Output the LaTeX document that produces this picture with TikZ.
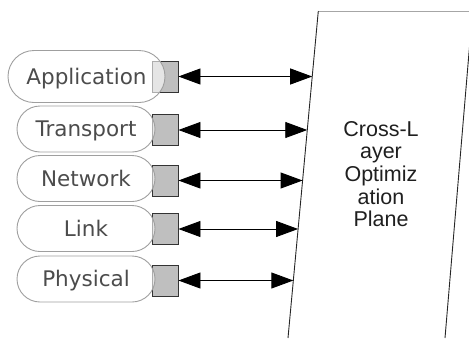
\documentclass[tikz,border=0pt]{standalone}
\usepackage{fontspec}
\setmainfont{DejaVu Sans}
\newfontfamily\planefont{Liberation Sans}
\usetikzlibrary{arrows.meta,shapes.misc,calc}
\begin{document}
\begin{tikzpicture}[x=1pt,y=-1pt,
  layerbox/.style={rounded rectangle, draw=gray!75, line width=0.9pt,
    fill=white, fill opacity=0.6, text opacity=1, text=black!70,
    font=\fontsize{21.5}{25}\selectfont, inner sep=0pt,
    text height=15.5pt, text depth=0pt,
    minimum width=138pt, minimum height=46pt},
  port/.style={rectangle, draw=black!80, fill=gray!50, line width=0.9pt,
    minimum width=26pt, minimum height=31pt, inner sep=0pt},
  twoway/.style={{Triangle[length=22pt,width=16pt]}-{Triangle[length=22pt,width=16pt]},
    line width=0.9pt, black}
]
\useasboundingbox (0,0) rectangle (469,338);
\clip (0,0) rectangle (469,338);

% the slanted optimisation plane
\coordinate (pTL) at (318.3,11);
\coordinate (pBL) at (288,338);
\coordinate (pTR) at (472.5,11);
\coordinate (pBR) at (445,338);
\draw[gray!70, line width=1pt] (pTL) -- (pTR);
\draw[black!85, line width=0.9pt] (pTL) -- (pBL);
\draw[black!85, line width=0.9pt] (pTR) -- (pBR);
\node[font=\planefont\fontsize{21.5}{22.7}\selectfont, text=black!88, align=center]
  (plane) at (381,174) {Cross-L\\ayer\\Optimiz\\ation\\Plane};

% ports (drawn first, partly covered by the layer boxes)
\node[port] (p1) at (165,76.5) {};
\node[port] (p2) at (165,130) {};
\node[port] (p3) at (165,180.5) {};
\node[port] (p4) at (165,229) {};
\node[port] (p5) at (165,280.5) {};

% protocol layers
\node[layerbox, minimum width=157pt, minimum height=52pt] (app) at (86.5,76.5) {Application};
\node[layerbox] (tra) at (86,129) {Transport};
\node[layerbox] (net) at (86,178.5) {Network};
\node[layerbox] (lnk) at (86,228.5) {Link};
\node[layerbox] (phy) at (86,279) {Physical};

% points where each layer meets the plane
\coordinate (e1) at ($(pTL)!0.2003!(pBL)$);
\coordinate (e2) at ($(pTL)!0.3639!(pBL)$);
\coordinate (e3) at ($(pTL)!0.5183!(pBL)$);
\coordinate (e4) at ($(pTL)!0.6667!(pBL)$);
\coordinate (e5) at ($(pTL)!0.8242!(pBL)$);

\draw[twoway] (p1.east) -- (p1.east -| e1);
\draw[twoway] (p2.east) -- (p2.east -| e2);
\draw[twoway] (p3.east) -- (p3.east -| e3);
\draw[twoway] (p4.east) -- (p4.east -| e4);
\draw[twoway] (p5.east) -- (p5.east -| e5);
\end{tikzpicture}
\end{document}
